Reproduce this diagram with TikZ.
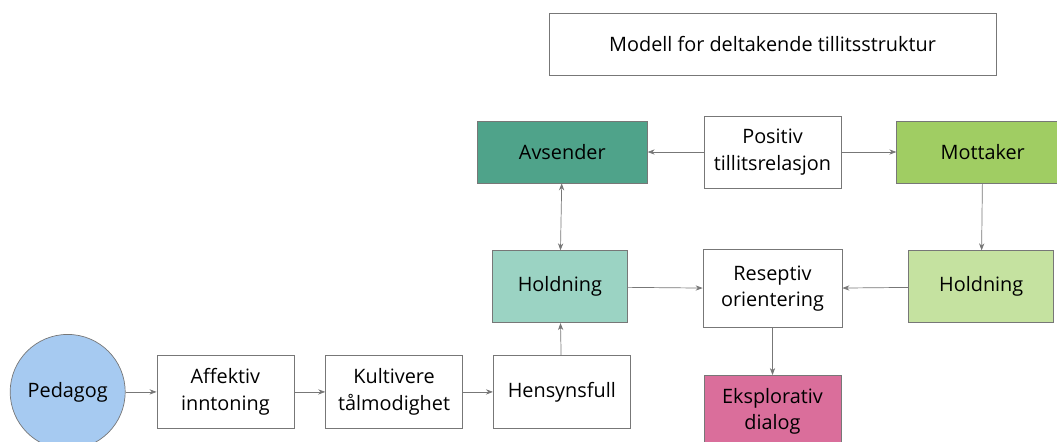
\documentclass[tikz,border=0pt]{standalone}
\usepackage{fontspec}
\setmainfont{Open Sans}
\usepackage{xcolor}
\usepackage{tikz}
\usetikzlibrary{positioning,arrows.meta}

\definecolor{avscol}{HTML}{4FA38A}
\definecolor{holdlcol}{HTML}{9BD3C3}
\definecolor{mottcol}{HTML}{A0CD63}
\definecolor{holdrcol}{HTML}{C5E2A0}
\definecolor{eksplcol}{HTML}{DA6E9B}
\definecolor{pedcol}{HTML}{A6CAF1}
\definecolor{edgecol}{HTML}{777777}

\begin{document}
\begin{tikzpicture}[node distance=1cm and 1cm, text centered, font=\fontsize{11.3}{15}\selectfont]
  % Styles
  \tikzstyle{box}=[rectangle, draw=edgecol, fill=white, align=center, inner sep=2pt]
  \tikzstyle{wbox}=[box, minimum width=2.74cm, minimum height=1.46cm]
  \tikzstyle{arr}=[-{Stealth[length=4pt,width=3pt]}, draw=edgecol, line width=0.4pt]

  \useasboundingbox (0,0) rectangle (21.14,-8.82);

  % Top row
  \node[box, minimum width=2.74cm, minimum height=1.44cm] (pos) at (15.45,-3.04) {Positiv\\tillitsrelasjon};
  \node[box, fill=avscol, minimum width=3.4cm, minimum height=1.24cm, left=1.12cm of pos] (avs) {Avsender};
  \node[box, fill=mottcol, minimum width=3.44cm, minimum height=1.24cm, right=1.1cm of pos] (mott) {Mottaker};
  \node[box, minimum width=8.94cm, minimum height=1.24cm, above=0.8cm of pos] (title) {Modell for deltakende tillitsstruktur};

  % Middle row
  \node[box, minimum width=2.78cm, minimum height=1.56cm, below=1.22cm of pos] (resep) {Reseptiv\\orientering};
  \node[box, fill=holdlcol, minimum width=2.7cm, minimum height=1.44cm, left=1.5cm of resep, yshift=0.04cm] (holdl) {Holdning};
  \node[box, fill=holdrcol, minimum width=2.9cm, minimum height=1.44cm, right=1.32cm of resep, yshift=0.04cm] (holdr) {Holdning};
  \node[box, fill=eksplcol, minimum width=2.74cm, minimum height=1.44cm, below=0.94cm of resep] (ekspl) {Eksplorativ\\dialog};

  % Bottom row
  \node[wbox, below=0.64cm of holdl, xshift=0.04cm] (hensyn) {Hensynsfull};
  \node[wbox, left=0.6cm of hensyn] (kult) {Kultivere\\tålmodighet};
  \node[wbox, left=0.62cm of kult] (affekt) {Affektiv\\inntoning};
  \node[circle, draw=edgecol, fill=pedcol, minimum size=2.3cm, left=0.62cm of affekt] (ped) {Pedagog};

  % Arrows
  \draw[arr] (ped) -- (affekt);
  \draw[arr] (affekt) -- (kult);
  \draw[arr] (kult) -- (hensyn);
  \draw[arr] (hensyn) -- (holdl);
  \draw[arr, {Stealth[length=4pt,width=3pt]}-{Stealth[length=4pt,width=3pt]}] (avs) -- (holdl);
  \draw[arr] (pos) -- (avs);
  \draw[arr] (pos) -- (mott);
  \draw[arr] (mott) -- (holdr);
  \draw[arr] (holdl) -- (resep);
  \draw[arr] (holdr) -- (resep);
  \draw[arr] (resep) -- (ekspl);
\end{tikzpicture}
\end{document}
